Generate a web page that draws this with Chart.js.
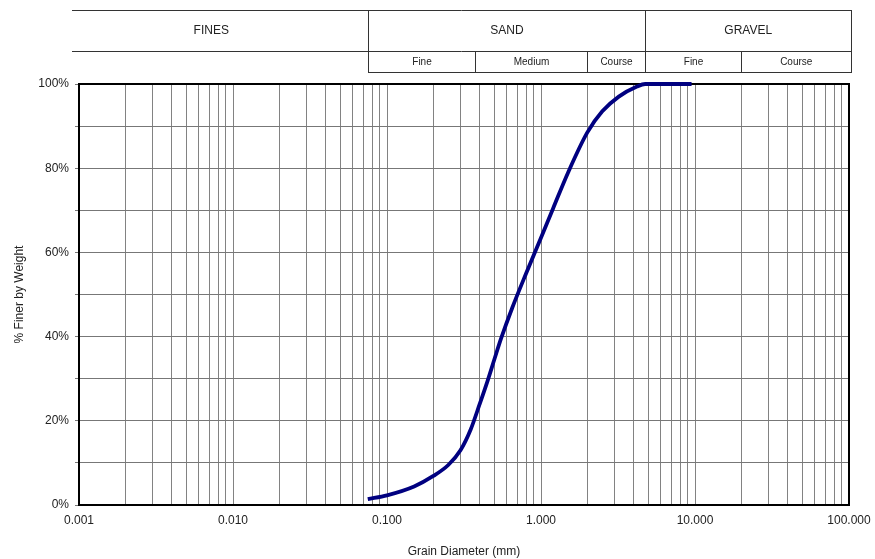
<!DOCTYPE html>
<html>
<head>
<meta charset="utf-8">
<script src="https://cdn.jsdelivr.net/npm/chart.js@4.4.1/dist/chart.umd.min.js"></script>
<style>
    html, body { margin: 0; padding: 0; background: #fff; }
    #wrap { width: 875px; height: 559px; }
</style>
</head>
<body>
<div id="wrap"><canvas id="gradChart" width="875" height="559"></canvas></div>
<script>
// Grain size (mm) and % finer
const grainSizes = [0.075, 0.1, 0.15, 0.2, 0.25, 0.3, 0.35, 0.4, 0.45, 0.5, 0.55, 0.65, 0.8, 1.0, 1.2, 1.5, 2.0, 2.5, 3.2, 4.2, 4.75, 9.5];
const percentFiner = [1.4, 2.3, 4.4, 6.9, 9.5, 13, 18, 24, 29.5, 34.8, 39.5, 46.8, 55, 63.5, 70.5, 79, 88.5, 93.5, 97, 99.4, 100, 100];

// Header table (soil classes)
const mainClasses = ['FINES', 'SAND', 'GRAVEL'];
const mainLimits = [0.075, 4.75];
const subClasses = ['Fine', 'Medium', 'Course', 'Fine', 'Course'];
const subLimits = [0.075, 0.375, 2.0, 4.75, 20, 100];

const xMin = 0.001, xMax = 100;
const FONT = '"Liberation Sans", Arial, sans-serif';

// log ticks 1..9 of every decade
function logTicks() {
    const t = [];
    for (let e = -3; e <= 2; e++) {
        for (let m = 1; m <= 9; m++) {
            const v = m * Math.pow(10, e);
            if (v <= xMax * 1.0001) t.push({ value: v });
        }
    }
    return t;
}

function isDecade(v) {
    const l = Math.log10(v);
    return Math.abs(l - Math.round(l)) < 1e-9;
}

const headerPlugin = {
    id: 'header',
    afterDraw(chart) {
        const ctx = chart.ctx;
        const x = chart.scales.x;
        const yTop = 10, yMid = 51, yBot = 72;
        const left = x.getPixelForValue(xMin) - 7;
        const right = Math.round(x.getPixelForValue(xMax)) + 2;
        const px = v => Math.round(x.getPixelForValue(v)) + 0.5;

        ctx.save();
        ctx.strokeStyle = '#333';
        ctx.lineWidth = 1;
        ctx.beginPath();
        ctx.moveTo(left, yTop + 0.5); ctx.lineTo(right, yTop + 0.5);
        ctx.moveTo(left, yMid + 0.5); ctx.lineTo(right, yMid + 0.5);
        ctx.moveTo(px(subLimits[0]), yBot + 0.5); ctx.lineTo(right, yBot + 0.5);
        ctx.moveTo(right + 0.5, yTop); ctx.lineTo(right + 0.5, yBot + 1);
        mainLimits.forEach(v => { ctx.moveTo(px(v), yTop); ctx.lineTo(px(v), yBot + 1); });
        subLimits.slice(1, -1).forEach(v => { ctx.moveTo(px(v), yMid); ctx.lineTo(px(v), yBot + 1); });
        ctx.stroke();

        ctx.fillStyle = '#222';
        ctx.textAlign = 'center';
        ctx.textBaseline = 'middle';
        ctx.font = '12px ' + FONT;
        const mainEdges = [left - 18, px(mainLimits[0]), px(mainLimits[1]), right];
        mainClasses.forEach((c, i) => {
            ctx.fillText(c, (mainEdges[i] + mainEdges[i + 1]) / 2, 31);
        });
        ctx.font = '10px ' + FONT;
        subClasses.forEach((c, i) => {
            const a = px(subLimits[i]);
            const b = i === subClasses.length - 1 ? right : px(subLimits[i + 1]);
            ctx.fillText(c, (a + b) / 2, 62);
        });
        ctx.restore();
    }
};

const borderPlugin = {
    id: 'plotBorder',
    beforeDatasetsDraw(chart) {
        const a = chart.chartArea;
        const ctx = chart.ctx;
        ctx.save();
        ctx.strokeStyle = '#000';
        ctx.lineWidth = 2;
        ctx.strokeRect(a.left, a.top, a.right - a.left, a.bottom - a.top);
        ctx.restore();
    }
};

const ctx = document.getElementById('gradChart').getContext('2d');
new Chart(ctx, {
    type: 'line',
    data: {
        datasets: [{
            data: grainSizes.map((s, i) => ({ x: s, y: percentFiner[i] })),
            borderColor: '#000080',
            borderWidth: 3.8,
            pointRadius: 0,
            cubicInterpolationMode: 'monotone',
            fill: false,
            clip: 4
        }]
    },
    options: {
        responsive: false,
        animation: false,
        devicePixelRatio: 1,
        layout: { padding: { top: 84, right: 26, left: 0, bottom: 0 } },
        plugins: {
            legend: { display: false },
            tooltip: { enabled: false }
        },
        scales: {
            x: {
                type: 'logarithmic',
                min: xMin,
                max: xMax,
                afterBuildTicks: scale => { scale.ticks = logTicks(); },
                afterFit: scale => {
                    scale.height = 54;
                    scale.paddingLeft = 0;
                    scale.paddingRight = 0;
                },
                grid: { color: '#828282', lineWidth: 1, drawTicks: false },
                border: { display: false },
                ticks: {
                    autoSkip: false,
                    maxRotation: 0,
                    padding: 8,
                    color: '#222',
                    font: { family: FONT, size: 12 },
                    callback: v => isDecade(v) ? Number(v).toFixed(3) : ''
                },
                title: {
                    display: true,
                    text: 'Grain Diameter (mm)',
                    color: '#222',
                    font: { family: FONT, size: 12 },
                    padding: { top: 8, bottom: 0 }
                }
            },
            y: {
                min: 0,
                max: 100,
                afterFit: scale => { scale.width = 79; },
                grid: { color: '#777', lineWidth: 1, tickLength: 4 },
                border: { display: false },
                ticks: {
                    stepSize: 10,
                    padding: 6,
                    color: '#222',
                    font: { family: FONT, size: 12 },
                    callback: v => v % 20 === 0 ? v + '%' : ''
                },
                title: {
                    display: true,
                    text: '% Finer by Weight',
                    color: '#222',
                    font: { family: FONT, size: 12 },
                    padding: { top: 12, bottom: 4 }
                }
            }
        }
    },
    plugins: [headerPlugin, borderPlugin]
});
</script>
</body>
</html>
